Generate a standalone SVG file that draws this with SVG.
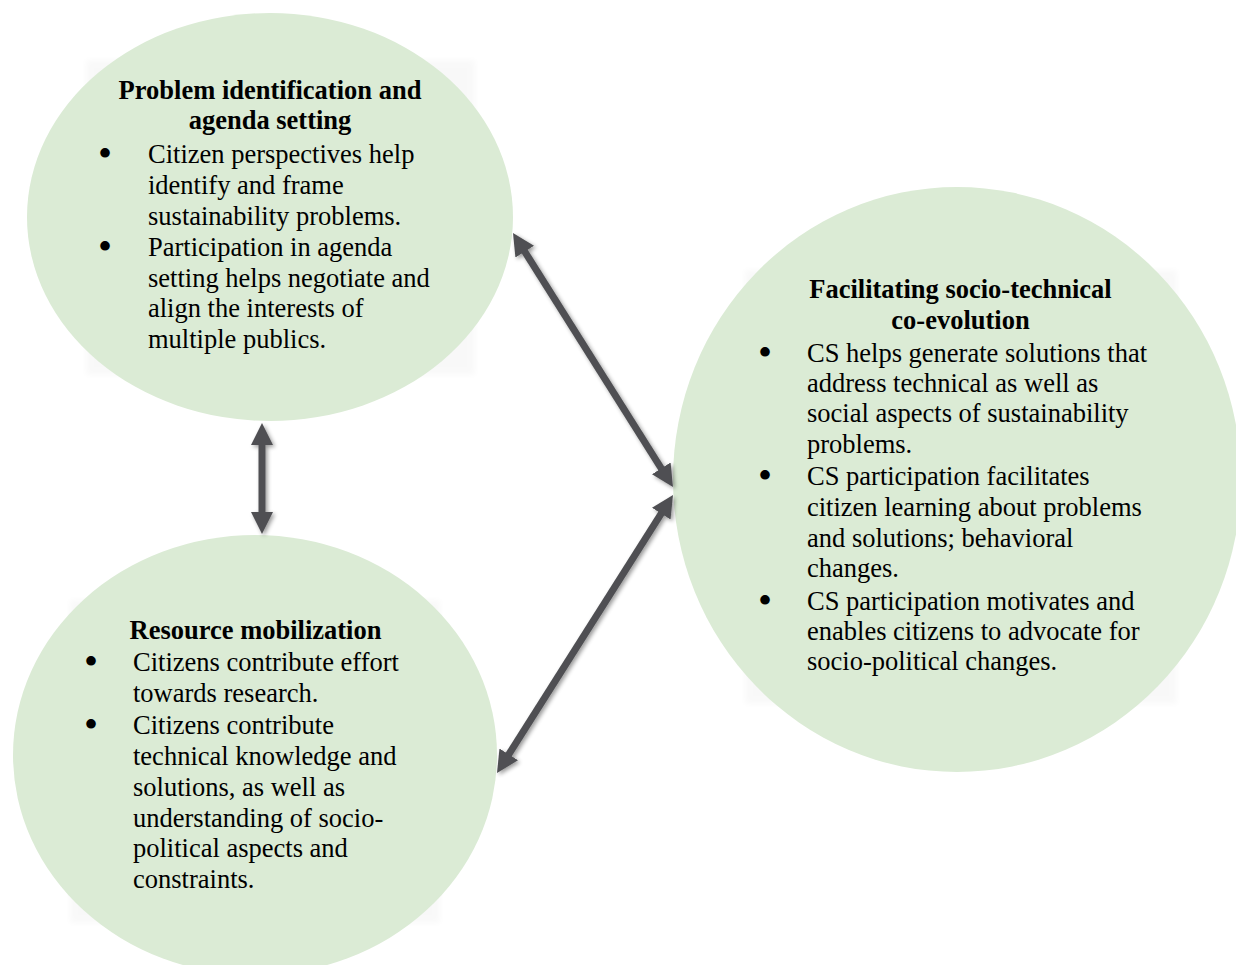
<svg xmlns="http://www.w3.org/2000/svg" width="1236" height="965" viewBox="0 0 1236 965">
<defs>
<style>
.bubble{fill:#DBEBD5;}
.shadowbox{fill:#000;opacity:0.025;}
.title{font-family:"Liberation Serif","Times New Roman",serif;font-size:26.5px;font-weight:bold;fill:#000;text-anchor:middle;}
.body{font-family:"Liberation Serif","Times New Roman",serif;font-size:26.5px;fill:#000;}
.bullet{font-family:"Liberation Serif","Times New Roman",serif;font-size:40px;fill:#000;text-anchor:middle;}
.conn{stroke:#4F5053;stroke-width:7;fill:none;marker-start:url(#head);marker-end:url(#head);}
</style>
<filter id="soft" x="-10%" y="-10%" width="120%" height="120%">
<feGaussianBlur stdDeviation="3"/>
</filter>
<filter id="dshadow" x="-20%" y="-20%" width="140%" height="140%">
<feGaussianBlur in="SourceAlpha" stdDeviation="2"/>
<feOffset dx="2" dy="2" result="b"/>
<feComponentTransfer><feFuncA type="linear" slope="0.4"/></feComponentTransfer>
<feMerge><feMergeNode/><feMergeNode in="SourceGraphic"/></feMerge>
</filter>
<marker id="head" viewBox="0 0 22 22" refX="2" refY="11" markerWidth="22" markerHeight="22" markerUnits="userSpaceOnUse" orient="auto-start-reverse">
<path d="M0,0 L22,11 L0,22 Z" fill="#4F5053"/>
</marker>
</defs>
<rect width="1236" height="965" fill="#FFFFFF"/>

<g id="shadows">
<rect class="shadowbox" x="86" y="60" width="389" height="315" filter="url(#soft)"/>
<rect class="shadowbox" x="745" y="270" width="432" height="434" filter="url(#soft)"/>
<rect class="shadowbox" x="70" y="600" width="370" height="323" filter="url(#soft)"/>
</g>

<g id="node-problem">
<ellipse class="bubble" cx="270" cy="217" rx="243" ry="204"/>
<text class="title" x="270" y="99">Problem identification and</text>
<text class="title" x="270" y="129">agenda setting</text>
<text class="bullet" x="105" y="167">•</text>
<text class="body" x="148" y="163">Citizen perspectives help</text>
<text class="body" x="148" y="194">identify and frame</text>
<text class="body" x="148" y="225">sustainability problems.</text>
<text class="bullet" x="105" y="260">•</text>
<text class="body" x="148" y="256">Participation in agenda</text>
<text class="body" x="148" y="287">setting helps negotiate and</text>
<text class="body" x="148" y="317">align the interests of</text>
<text class="body" x="148" y="348">multiple publics.</text>
</g>

<g id="node-facilitating">
<ellipse class="bubble" cx="957" cy="479.5" rx="284" ry="292.5"/>
<text class="title" x="960.5" y="298">Facilitating socio-technical</text>
<text class="title" x="960.5" y="329">co-evolution</text>
<text class="bullet" x="765" y="366">•</text>
<text class="body" x="807" y="362">CS helps generate solutions that</text>
<text class="body" x="807" y="392">address technical as well as</text>
<text class="body" x="807" y="422">social aspects of sustainability</text>
<text class="body" x="807" y="453">problems.</text>
<text class="bullet" x="765" y="489">•</text>
<text class="body" x="807" y="485">CS participation facilitates</text>
<text class="body" x="807" y="516">citizen learning about problems</text>
<text class="body" x="807" y="547">and solutions; behavioral</text>
<text class="body" x="807" y="577">changes.</text>
<text class="bullet" x="765" y="614">•</text>
<text class="body" x="807" y="610">CS participation motivates and</text>
<text class="body" x="807" y="640">enables citizens to advocate for</text>
<text class="body" x="807" y="670">socio-political changes.</text>
</g>

<g id="node-resource">
<ellipse class="bubble" cx="255" cy="755" rx="242" ry="220"/>
<text class="title" x="255.5" y="639">Resource mobilization</text>
<text class="bullet" x="91" y="675">•</text>
<text class="body" x="133" y="671">Citizens contribute effort</text>
<text class="body" x="133" y="702">towards research.</text>
<text class="bullet" x="91" y="738">•</text>
<text class="body" x="133" y="734">Citizens contribute</text>
<text class="body" x="133" y="765">technical knowledge and</text>
<text class="body" x="133" y="796">solutions, as well as</text>
<text class="body" x="133" y="827">understanding of socio-</text>
<text class="body" x="133" y="857">political aspects and</text>
<text class="body" x="133" y="888">constraints.</text>
</g>

<g id="connectors" filter="url(#dshadow)">
<line class="conn" x1="523.66" y1="249.92" x2="662.34" y2="470.08"/>
<line class="conn" x1="662.3" y1="511.9" x2="507.7" y2="756.1"/>
<line class="conn" x1="262" y1="443" x2="262" y2="514"/>
</g>
</svg>
